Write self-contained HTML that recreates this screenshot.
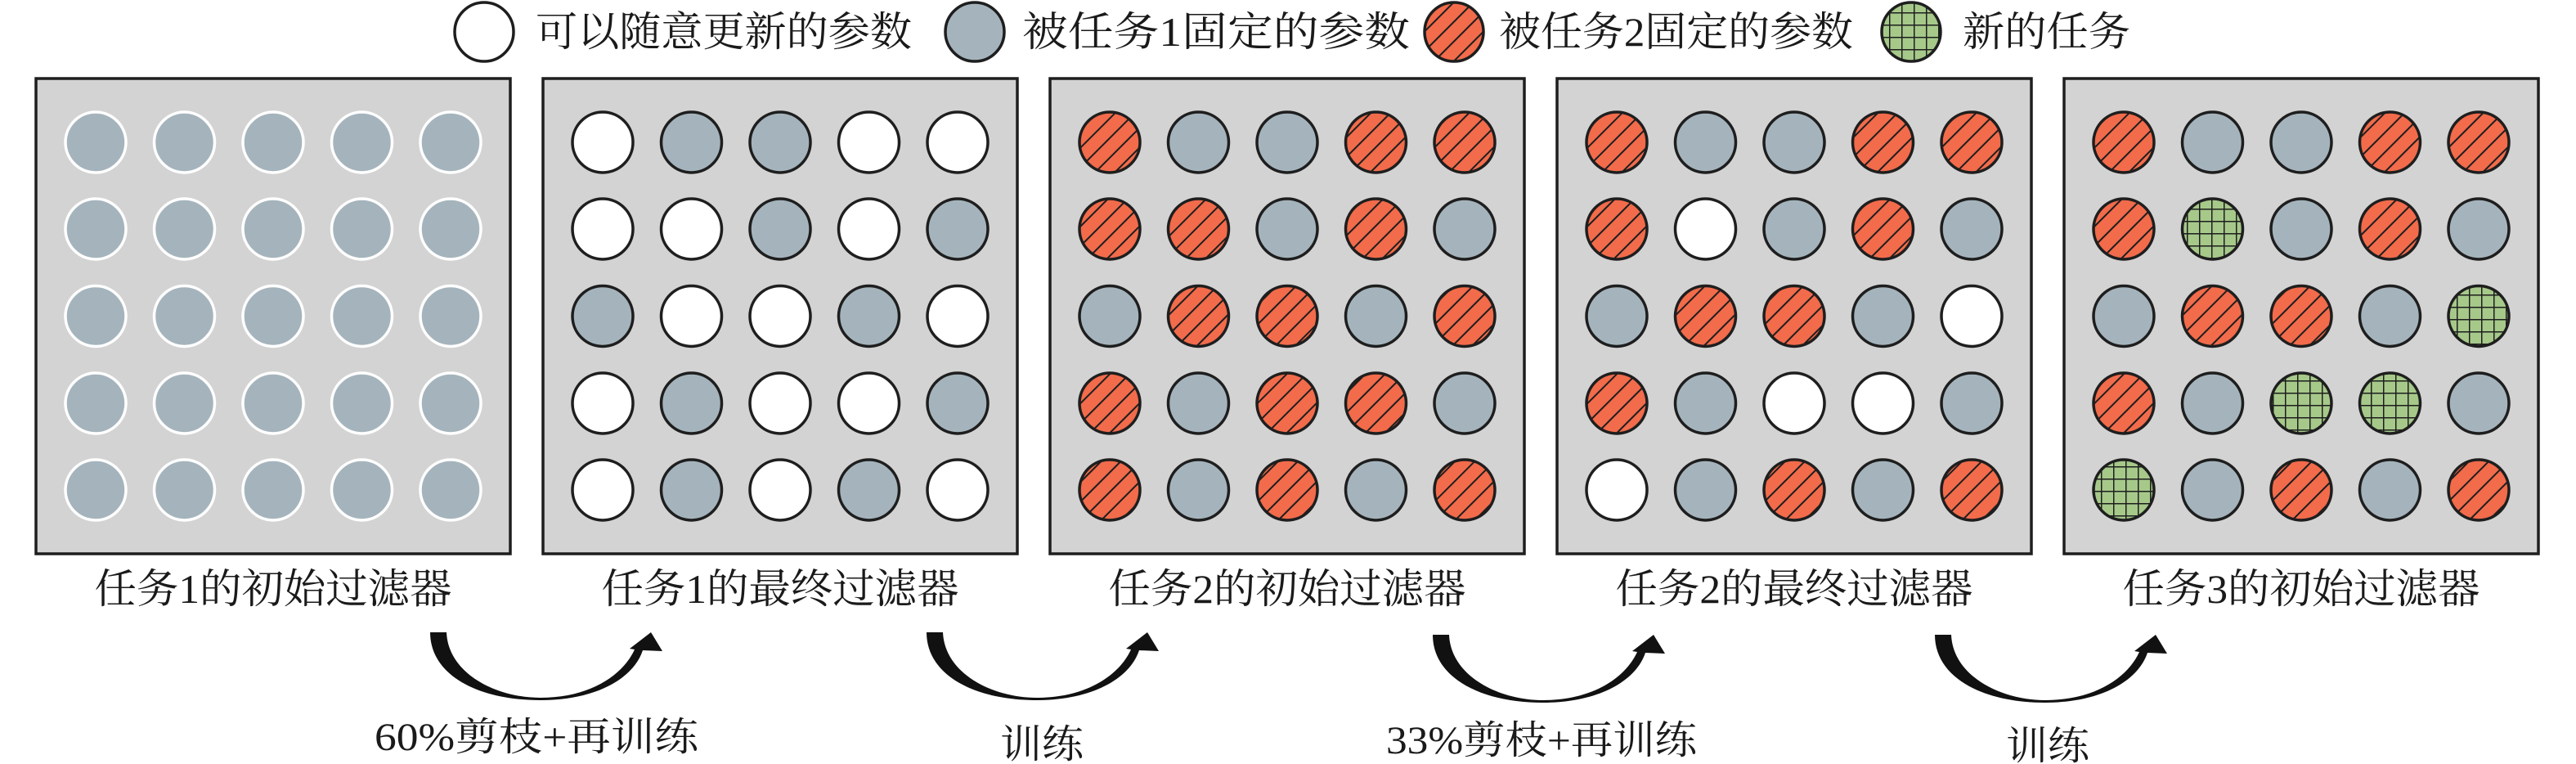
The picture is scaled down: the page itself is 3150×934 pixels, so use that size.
<!DOCTYPE html>
<html><head><meta charset="utf-8"><style>
html,body{margin:0;padding:0;background:#fff;}
svg{display:block;}
text{font-family:"Liberation Serif","Noto Serif CJK SC",serif;fill:#1a1a1a;}
.g{fill:#A5B4BC;stroke:#1e1e1e;stroke-width:3.5}
.w{fill:#fff;stroke:#1e1e1e;stroke-width:3.5}
.r{fill:url(#h);stroke:#1e1e1e;stroke-width:3.5}
.n{fill:url(#gr);stroke:#1e1e1e;stroke-width:3.5}
.p1{fill:#A5B4BC;stroke:#fff;stroke-width:3.5}
.pan{fill:#D3D3D3;stroke:#1e1e1e;stroke-width:3.5}
</style></head><body>
<svg width="3150" height="934" viewBox="0 0 3150 934" xmlns="http://www.w3.org/2000/svg">
<defs>
<pattern id="h" width="17" height="17" patternUnits="userSpaceOnUse" patternTransform="rotate(45)"><rect width="17" height="17" fill="#F26B4B"/><line x1="1" y1="0" x2="1" y2="17" stroke="#1e1e1e" stroke-width="2"/></pattern>
<pattern id="gr" width="15" height="15" patternUnits="userSpaceOnUse"><rect width="15" height="15" fill="#A6C98A"/><line x1="0" y1="0.7" x2="15" y2="0.7" stroke="#1e1e1e" stroke-width="1.6"/><line x1="0.7" y1="0" x2="0.7" y2="15" stroke="#1e1e1e" stroke-width="1.6"/></pattern>
<path id="arr" d="M0,0 C0,52 58,83 135,83 C200,83 248,58 260,22 L284,23 L270,0 L244,20 L250,21 C236,52 196,80 135,80 C80,80 22,50 20,0 Z" fill="#111"/>
</defs>

<!-- legend -->
<circle cx="592" cy="39" r="36" class="w"/>
<text x="655" y="56" font-size="50" textLength="460" lengthAdjust="spacingAndGlyphs">可以随意更新的参数</text>
<circle cx="1192" cy="39" r="36" class="g"/>
<text x="1250" y="56" font-size="50" textLength="474" lengthAdjust="spacingAndGlyphs">被任务1固定的参数</text>
<circle cx="1778" cy="39" r="36" class="r"/>
<text x="1833" y="56" font-size="50" textLength="433" lengthAdjust="spacingAndGlyphs">被任务2固定的参数</text>
<circle cx="2337" cy="39" r="36" class="n"/>
<text x="2400" y="56" font-size="50" textLength="205" lengthAdjust="spacingAndGlyphs">新的任务</text>

<!-- panels -->
<rect x="44" y="96" width="580" height="581" class="pan"/>
<rect x="664" y="96" width="580" height="581" class="pan"/>
<rect x="1284" y="96" width="580" height="581" class="pan"/>
<rect x="1904" y="96" width="580" height="581" class="pan"/>
<rect x="2524" y="96" width="580" height="581" class="pan"/>

<!-- panel 1 -->
<g transform="translate(44,0)">
<circle cx="73" cy="174" r="37" class="p1"/><circle cx="181.5" cy="174" r="37" class="p1"/><circle cx="290" cy="174" r="37" class="p1"/><circle cx="398.5" cy="174" r="37" class="p1"/><circle cx="507" cy="174" r="37" class="p1"/>
<circle cx="73" cy="280" r="37" class="p1"/><circle cx="181.5" cy="280" r="37" class="p1"/><circle cx="290" cy="280" r="37" class="p1"/><circle cx="398.5" cy="280" r="37" class="p1"/><circle cx="507" cy="280" r="37" class="p1"/>
<circle cx="73" cy="386.5" r="37" class="p1"/><circle cx="181.5" cy="386.5" r="37" class="p1"/><circle cx="290" cy="386.5" r="37" class="p1"/><circle cx="398.5" cy="386.5" r="37" class="p1"/><circle cx="507" cy="386.5" r="37" class="p1"/>
<circle cx="73" cy="493" r="37" class="p1"/><circle cx="181.5" cy="493" r="37" class="p1"/><circle cx="290" cy="493" r="37" class="p1"/><circle cx="398.5" cy="493" r="37" class="p1"/><circle cx="507" cy="493" r="37" class="p1"/>
<circle cx="73" cy="599" r="37" class="p1"/><circle cx="181.5" cy="599" r="37" class="p1"/><circle cx="290" cy="599" r="37" class="p1"/><circle cx="398.5" cy="599" r="37" class="p1"/><circle cx="507" cy="599" r="37" class="p1"/>
</g>
<!-- panel 2 -->
<g transform="translate(664,0)">
<circle cx="73" cy="174" r="37" class="w"/><circle cx="181.5" cy="174" r="37" class="g"/><circle cx="290" cy="174" r="37" class="g"/><circle cx="398.5" cy="174" r="37" class="w"/><circle cx="507" cy="174" r="37" class="w"/>
<circle cx="73" cy="280" r="37" class="w"/><circle cx="181.5" cy="280" r="37" class="w"/><circle cx="290" cy="280" r="37" class="g"/><circle cx="398.5" cy="280" r="37" class="w"/><circle cx="507" cy="280" r="37" class="g"/>
<circle cx="73" cy="386.5" r="37" class="g"/><circle cx="181.5" cy="386.5" r="37" class="w"/><circle cx="290" cy="386.5" r="37" class="w"/><circle cx="398.5" cy="386.5" r="37" class="g"/><circle cx="507" cy="386.5" r="37" class="w"/>
<circle cx="73" cy="493" r="37" class="w"/><circle cx="181.5" cy="493" r="37" class="g"/><circle cx="290" cy="493" r="37" class="w"/><circle cx="398.5" cy="493" r="37" class="w"/><circle cx="507" cy="493" r="37" class="g"/>
<circle cx="73" cy="599" r="37" class="w"/><circle cx="181.5" cy="599" r="37" class="g"/><circle cx="290" cy="599" r="37" class="w"/><circle cx="398.5" cy="599" r="37" class="g"/><circle cx="507" cy="599" r="37" class="w"/>
</g>
<!-- panel 3 -->
<g transform="translate(1284,0)">
<circle cx="73" cy="174" r="37" class="r"/><circle cx="181.5" cy="174" r="37" class="g"/><circle cx="290" cy="174" r="37" class="g"/><circle cx="398.5" cy="174" r="37" class="r"/><circle cx="507" cy="174" r="37" class="r"/>
<circle cx="73" cy="280" r="37" class="r"/><circle cx="181.5" cy="280" r="37" class="r"/><circle cx="290" cy="280" r="37" class="g"/><circle cx="398.5" cy="280" r="37" class="r"/><circle cx="507" cy="280" r="37" class="g"/>
<circle cx="73" cy="386.5" r="37" class="g"/><circle cx="181.5" cy="386.5" r="37" class="r"/><circle cx="290" cy="386.5" r="37" class="r"/><circle cx="398.5" cy="386.5" r="37" class="g"/><circle cx="507" cy="386.5" r="37" class="r"/>
<circle cx="73" cy="493" r="37" class="r"/><circle cx="181.5" cy="493" r="37" class="g"/><circle cx="290" cy="493" r="37" class="r"/><circle cx="398.5" cy="493" r="37" class="r"/><circle cx="507" cy="493" r="37" class="g"/>
<circle cx="73" cy="599" r="37" class="r"/><circle cx="181.5" cy="599" r="37" class="g"/><circle cx="290" cy="599" r="37" class="r"/><circle cx="398.5" cy="599" r="37" class="g"/><circle cx="507" cy="599" r="37" class="r"/>
</g>
<!-- panel 4 -->
<g transform="translate(1904,0)">
<circle cx="73" cy="174" r="37" class="r"/><circle cx="181.5" cy="174" r="37" class="g"/><circle cx="290" cy="174" r="37" class="g"/><circle cx="398.5" cy="174" r="37" class="r"/><circle cx="507" cy="174" r="37" class="r"/>
<circle cx="73" cy="280" r="37" class="r"/><circle cx="181.5" cy="280" r="37" class="w"/><circle cx="290" cy="280" r="37" class="g"/><circle cx="398.5" cy="280" r="37" class="r"/><circle cx="507" cy="280" r="37" class="g"/>
<circle cx="73" cy="386.5" r="37" class="g"/><circle cx="181.5" cy="386.5" r="37" class="r"/><circle cx="290" cy="386.5" r="37" class="r"/><circle cx="398.5" cy="386.5" r="37" class="g"/><circle cx="507" cy="386.5" r="37" class="w"/>
<circle cx="73" cy="493" r="37" class="r"/><circle cx="181.5" cy="493" r="37" class="g"/><circle cx="290" cy="493" r="37" class="w"/><circle cx="398.5" cy="493" r="37" class="w"/><circle cx="507" cy="493" r="37" class="g"/>
<circle cx="73" cy="599" r="37" class="w"/><circle cx="181.5" cy="599" r="37" class="g"/><circle cx="290" cy="599" r="37" class="r"/><circle cx="398.5" cy="599" r="37" class="g"/><circle cx="507" cy="599" r="37" class="r"/>
</g>
<!-- panel 5 -->
<g transform="translate(2524,0)">
<circle cx="73" cy="174" r="37" class="r"/><circle cx="181.5" cy="174" r="37" class="g"/><circle cx="290" cy="174" r="37" class="g"/><circle cx="398.5" cy="174" r="37" class="r"/><circle cx="507" cy="174" r="37" class="r"/>
<circle cx="73" cy="280" r="37" class="r"/><circle cx="181.5" cy="280" r="37" class="n"/><circle cx="290" cy="280" r="37" class="g"/><circle cx="398.5" cy="280" r="37" class="r"/><circle cx="507" cy="280" r="37" class="g"/>
<circle cx="73" cy="386.5" r="37" class="g"/><circle cx="181.5" cy="386.5" r="37" class="r"/><circle cx="290" cy="386.5" r="37" class="r"/><circle cx="398.5" cy="386.5" r="37" class="g"/><circle cx="507" cy="386.5" r="37" class="n"/>
<circle cx="73" cy="493" r="37" class="r"/><circle cx="181.5" cy="493" r="37" class="g"/><circle cx="290" cy="493" r="37" class="n"/><circle cx="398.5" cy="493" r="37" class="n"/><circle cx="507" cy="493" r="37" class="g"/>
<circle cx="73" cy="599" r="37" class="n"/><circle cx="181.5" cy="599" r="37" class="g"/><circle cx="290" cy="599" r="37" class="r"/><circle cx="398.5" cy="599" r="37" class="g"/><circle cx="507" cy="599" r="37" class="r"/>
</g>

<!-- panel labels -->
<text x="334" y="737" font-size="50" text-anchor="middle" textLength="437" lengthAdjust="spacingAndGlyphs">任务1的初始过滤器</text>
<text x="954" y="737" font-size="50" text-anchor="middle" textLength="437" lengthAdjust="spacingAndGlyphs">任务1的最终过滤器</text>
<text x="1574" y="737" font-size="50" text-anchor="middle" textLength="437" lengthAdjust="spacingAndGlyphs">任务2的初始过滤器</text>
<text x="2194" y="737" font-size="50" text-anchor="middle" textLength="437" lengthAdjust="spacingAndGlyphs">任务2的最终过滤器</text>
<text x="2814" y="737" font-size="50" text-anchor="middle" textLength="437" lengthAdjust="spacingAndGlyphs">任务3的初始过滤器</text>

<!-- arrows -->
<use href="#arr" transform="translate(526,773)"/>
<use href="#arr" transform="translate(1133,773)"/>
<use href="#arr" transform="translate(1752,776)"/>
<use href="#arr" transform="translate(2366,776)"/>

<!-- arrow labels -->
<text x="656" y="917" font-size="48" text-anchor="middle" textLength="396" lengthAdjust="spacingAndGlyphs">60%剪枝+再训练</text>
<text x="1274" y="926" font-size="48" text-anchor="middle" textLength="102" lengthAdjust="spacingAndGlyphs">训练</text>
<text x="1885" y="921" font-size="48" text-anchor="middle" textLength="380" lengthAdjust="spacingAndGlyphs">33%剪枝+再训练</text>
<text x="2504" y="928" font-size="48" text-anchor="middle" textLength="102" lengthAdjust="spacingAndGlyphs">训练</text>
</svg>
</body></html>
